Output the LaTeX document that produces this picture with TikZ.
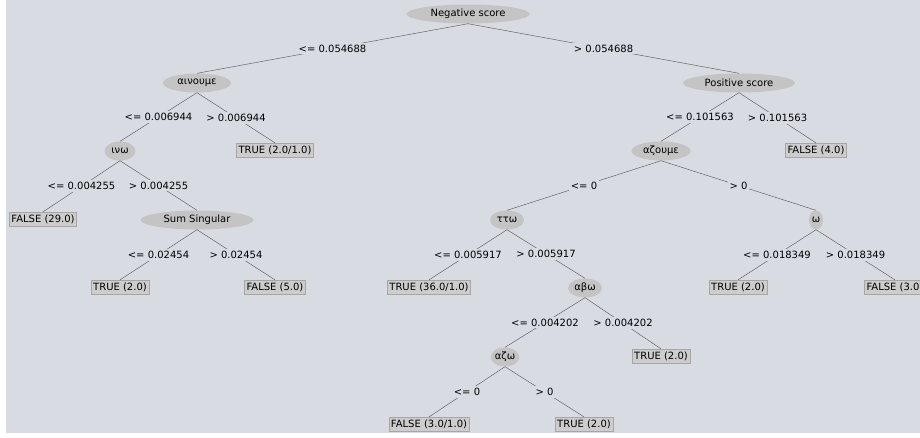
\documentclass[tikz,border=0pt]{standalone}
\usepackage{fontspec}
\setmainfont{DejaVu Sans}
\usetikzlibrary{shapes.geometric}
\definecolor{panel}{RGB}{217,219,227}
\definecolor{attrgray}{RGB}{196,196,196}
\definecolor{leafgray}{RGB}{205,205,205}

\begin{document}
\begin{tikzpicture}[x = 1pt, y = -1pt, font = \fontsize{10}{12}\selectfont,
  attr/.style = {fill = attrgray, shape = ellipse, inner sep = 0pt, minimum height = 19pt, minimum width = #1},
  leaf/.style = {fill = leafgray, draw = black!35, shape = rectangle, inner xsep = 2pt, inner ysep = 2.5pt},
  cond/.style = {fill = panel, inner sep = 2pt},
  branch/.style = {draw = black!60, line width = 0.5pt}]
\useasboundingbox (0,0) rectangle (920,437);
\clip (0,0) rectangle (920,437);
\fill[white] (0,0) rectangle (920,437);
\fill[panel] (6,0) rectangle (920,433);

\node[attr = 123pt] (1) at (468,14) {Negative score};
\node[attr = 68pt]  (2) at (197,83) {αινουμε};
\node[attr = 31pt]  (3) at (120,151) {ινω};
\node[leaf]         (4) at (275,150) {TRUE (2.0/1.0)};
\node[leaf]         (5) at (43,219) {FALSE (29.0)};
\node[attr = 113pt] (6) at (197,220) {Sum Singular};
\node[leaf]         (7) at (120,287) {TRUE (2.0)};
\node[leaf]         (8) at (275,287) {FALSE (5.0)};
\node[attr = 112pt] (9) at (739,83) {Positive score};
\node[attr = 59pt]  (10) at (661,151) {αζουμε};
\node[leaf]         (11) at (816,150) {FALSE (4.0)};
\node[attr = 34pt]  (12) at (507,220) {ττω};
\node[attr = 14pt]  (13) at (816,220) {ω};
\node[leaf]         (14) at (429,287) {TRUE (36.0/1.0)};
\node[attr = 34pt]  (15) at (585,288) {αβω};
\node[leaf]         (16) at (661,356) {TRUE (2.0)};
\node[attr = 28pt]  (17) at (505,357) {αζω};
\node[leaf]         (18) at (429,424) {FALSE (3.0/1.0)};
\node[leaf]         (19) at (584,424) {TRUE (2.0)};
\node[leaf]         (20) at (738,287) {TRUE (2.0)};
\node[leaf]         (21) at (895,287) {FALSE (3.0)};

\draw[branch] (1.south) -- node[cond] {<= 0.054688} (2.north);
\draw[branch] (1.south) -- node[cond] {> 0.054688} (9.north);
\draw[branch] (2.south) -- node[cond] {<= 0.006944} (3.north);
\draw[branch] (2.south) -- node[cond] {> 0.006944} (4.north);
\draw[branch] (3.south) -- node[cond] {<= 0.004255} (5.north);
\draw[branch] (3.south) -- node[cond] {> 0.004255} (6.north);
\draw[branch] (6.south) -- node[cond] {<= 0.02454} (7.north);
\draw[branch] (6.south) -- node[cond] {> 0.02454} (8.north);
\draw[branch] (9.south) -- node[cond] {<= 0.101563} (10.north);
\draw[branch] (9.south) -- node[cond] {> 0.101563} (11.north);
\draw[branch] (10.south) -- node[cond] {<= 0} (12.north);
\draw[branch] (10.south) -- node[cond] {> 0} (13.north);
\draw[branch] (12.south) -- node[cond] {<= 0.005917} (14.north);
\draw[branch] (12.south) -- node[cond] {> 0.005917} (15.north);
\draw[branch] (15.south) -- node[cond] {<= 0.004202} (17.north);
\draw[branch] (15.south) -- node[cond] {> 0.004202} (16.north);
\draw[branch] (17.south) -- node[cond] {<= 0} (18.north);
\draw[branch] (17.south) -- node[cond] {> 0} (19.north);
\draw[branch] (13.south) -- node[cond] {<= 0.018349} (20.north);
\draw[branch] (13.south) -- node[cond] {> 0.018349} (21.north);
\end{tikzpicture}
\end{document}
